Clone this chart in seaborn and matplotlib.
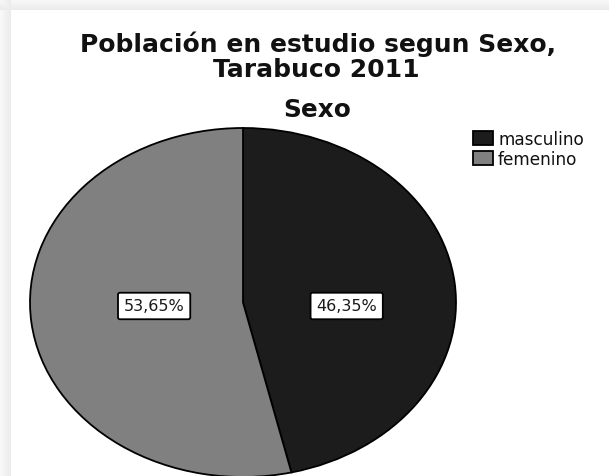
import numpy as np
import matplotlib
matplotlib.use("Agg")
import matplotlib.pyplot as plt
import seaborn as sns

# Datos: distribución por sexo, Tarabuco 2011
categorias = ["masculino", "femenino"]
porcentajes = [46.35, 53.65]
colores = ["#1c1c1c", "#808080"]
titulo = ["Población en estudio segun Sexo,", "Tarabuco 2011"]
subtitulo = "Sexo"

sns.set_theme(style="white")
plt.rcParams["font.family"] = ["DejaVu Sans"]

W, H = 609, 477
fig = plt.figure(figsize=(W / 100, H / 100), dpi=100)
fig.patch.set_facecolor("white")

# marco sombreado a la izquierda y arriba
bg = fig.add_axes([0, 0, 1, 1], zorder=-10)
img = np.ones((H, W, 3))
ramp = np.linspace(0.975, 0.925, 11)
img[:, :11, :] = np.minimum(img[:, :11, :], ramp[None, :, None])
img[:11, :, :] = np.minimum(img[:11, :, :], ramp[:, None, None])
bg.imshow(img, aspect="auto", extent=(0, 1, 0, 1), interpolation="nearest")
bg.set_xlim(0, 1)
bg.set_ylim(0, 1)
bg.axis("off")

# eje del gráfico circular (elipse)
ax = fig.add_axes([30 / W, (H - 478) / H, 426 / W, 349 / H])


def etiqueta(p):
    return f"{p:.2f}%".replace(".", ",")


wedges, _, autotexts = ax.pie(
    porcentajes,
    colors=colores,
    startangle=90,
    counterclock=False,
    autopct=etiqueta,
    pctdistance=0.45,
    wedgeprops=dict(edgecolor="black", linewidth=1.3),
    textprops=dict(fontsize=11.5, color="#1a1a1a"),
)
ax.set_aspect("auto")
ax.set_xlim(-1, 1)
ax.set_ylim(-1, 1)

# posición de las etiquetas dentro de cada sector
radios = [0.49, 0.42]
for w, t, r in zip(wedges, autotexts, radios):
    ang = np.deg2rad((w.theta1 + w.theta2) / 2)
    t.set_position((r * np.cos(ang), -0.02))
    t.set_bbox(dict(boxstyle="round,pad=0.36,rounding_size=0.12",
                    fc="white", ec="black", lw=1.3))

# títulos
fig.text(318 / W, 1 - 52 / H, titulo[0], ha="center", va="baseline",
         fontsize=18, fontweight="bold", color="#111111")
fig.text(316 / W, 1 - 77 / H, titulo[1], ha="center", va="baseline",
         fontsize=18, fontweight="bold", color="#111111")
fig.text(317 / W, 1 - 117 / H, subtitulo, ha="center", va="baseline",
         fontsize=17.8, fontweight="bold", color="#111111")

# leyenda
leg = ax.legend(
    wedges, categorias,
    loc="upper left",
    bbox_to_anchor=(473 / W, 1 - 131 / H),
    bbox_transform=fig.transFigure,
    frameon=False,
    fontsize=12.2,
    handlelength=1.18,
    handleheight=0.9,
    handletextpad=0.3,
    labelspacing=0.12,
    borderpad=0,
    borderaxespad=0,
)
for txt in leg.get_texts():
    txt.set_color("#111111")

fig.savefig("out.png", dpi=100)
